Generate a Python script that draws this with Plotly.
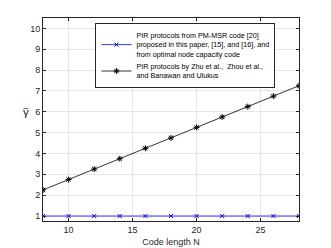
import plotly.graph_objects as go

N = [8, 10, 12, 14, 16, 18, 20, 22, 24, 26, 28]
gamma_pm_msr = [1, 1, 1, 1, 1, 1, 1, 1, 1, 1, 1]
gamma_zhu = [2.25, 2.75, 3.25, 3.75, 4.25, 4.75, 5.25, 5.75, 6.25, 6.75, 7.25]
x_ticks = [10, 15, 20, 25]
y_ticks = [1, 2, 3, 4, 5, 6, 7, 8, 9, 10]
name_pm = "PIR protocols from PM-MSR code [20]<br>proposed in this paper, [15], and [16], and<br>from optimal node capacity code"
name_zhu = "PIR protocols by Zhu et al.,  Zhou et al.,<br>and Banawan and Ulukus"

font = "Liberation Sans, Arial, sans-serif"

fig = go.Figure()
fig.add_trace(go.Scatter(x=N, y=gamma_pm_msr, mode="lines+markers", name=name_pm,
                         line=dict(color="#0000ff", width=0.8),
                         marker=dict(symbol="x-thin-open", size=4, color="#0000ff",
                                     line=dict(color="#0000ff", width=1))))
fig.add_trace(go.Scatter(x=N, y=gamma_zhu, mode="lines+markers", name=name_zhu,
                         line=dict(color="#000000", width=0.8),
                         marker=dict(symbol="asterisk-open", size=5, color="#000000",
                                     line=dict(color="#000000", width=1))))

axis_common = dict(showline=True, linecolor="#262626", linewidth=1, mirror="ticks",
                   ticks="inside", ticklen=3, tickcolor="#262626", automargin=False,
                   showgrid=True, gridcolor="#e6e6e6", gridwidth=1, zeroline=False,
                   tickfont=dict(family=font, size=9, color="#262626"))

fig.update_xaxes(range=[8, 28], tickvals=x_ticks,
                 title=dict(text="Code length N", font=dict(family=font, size=9, color="#262626"), standoff=4),
                 **axis_common)
fig.update_yaxes(range=[0.76, 10.5], tickvals=y_ticks, **axis_common)

fig.add_annotation(text="γ", xref="paper", yref="paper", x=-0.066, y=0.538,
                   showarrow=False, xanchor="center", yanchor="middle",
                   font=dict(family=font, size=11.5, color="#262626"))
fig.add_annotation(text="‾", xref="paper", yref="paper", x=-0.066, y=0.572,
                   showarrow=False, xanchor="center", yanchor="top",
                   font=dict(family=font, size=11.5, color="#262626"))

fig.update_layout(width=331, height=248, margin=dict(l=43, r=32, t=18, b=27, autoexpand=False),
                  paper_bgcolor="white", plot_bgcolor="white",
                  showlegend=True,
                  legend=dict(x=0.205, y=0.975, xanchor="left", yanchor="top",
                              bgcolor="white", bordercolor="#262626", borderwidth=1,
                              font=dict(family=font, size=7.2, color="#000000"),
                              tracegroupgap=0, itemwidth=30))

fig.write_html("out.html", config={"displayModeBar": False},
               post_script="document.body.style.margin='0';")
